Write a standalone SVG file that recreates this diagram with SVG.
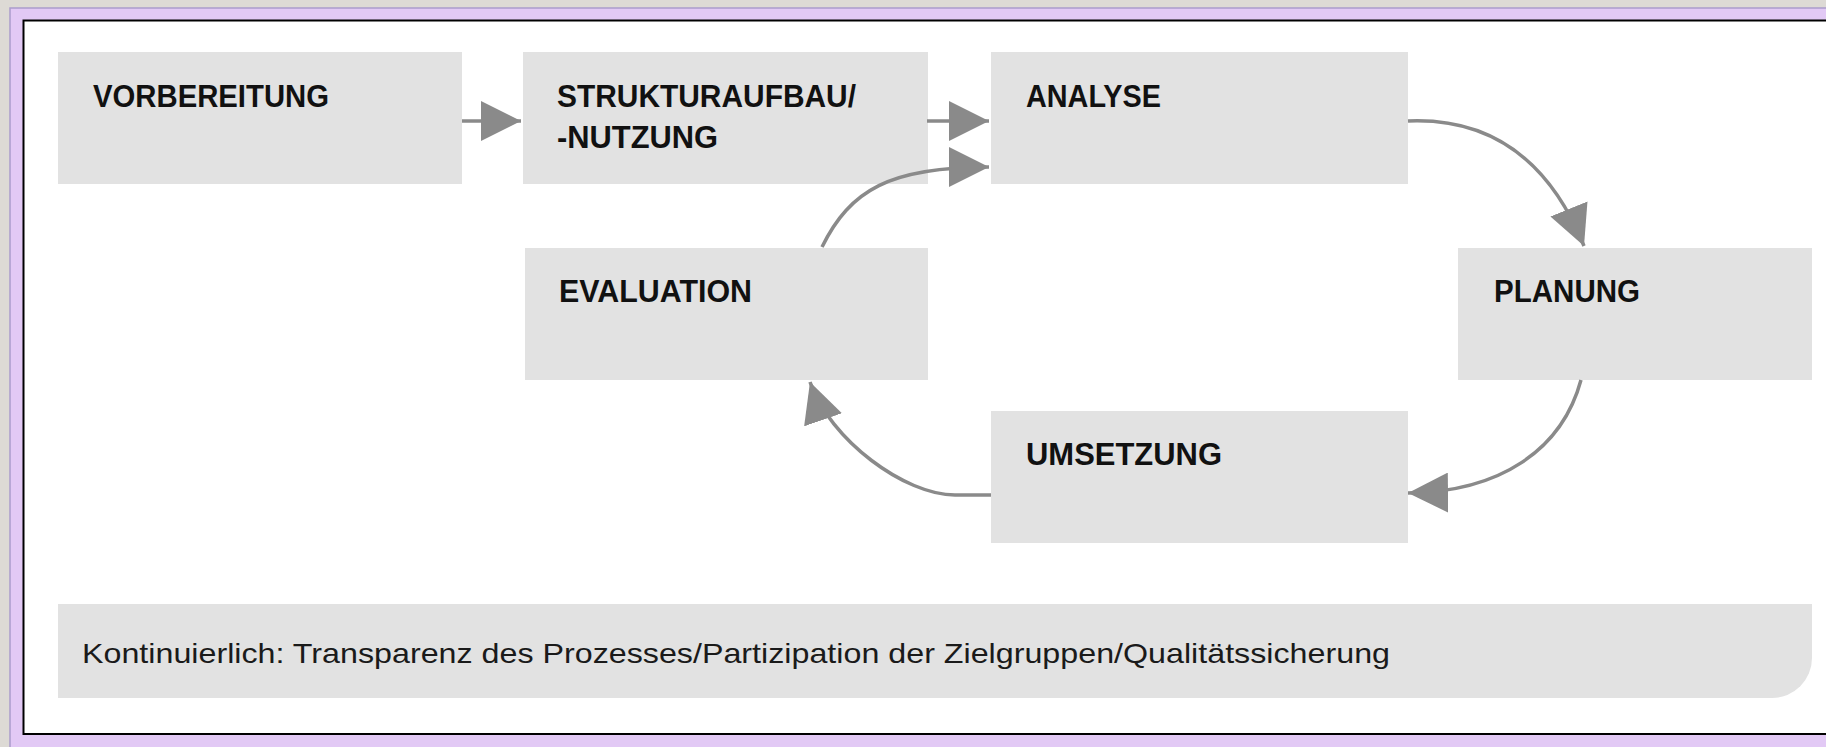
<svg xmlns="http://www.w3.org/2000/svg" width="1826" height="747" viewBox="0 0 1826 747">
<style>
.box{fill:#e2e2e2}
.lbl{font-family:"Liberation Sans",Arial,sans-serif;font-weight:bold;font-size:32px;fill:#111}
.note{font-family:"Liberation Sans",Arial,sans-serif;font-size:28px;fill:#1a1a1a}
.con{fill:none;stroke:#8a8a8a;stroke-width:3.5}
</style>
<defs>
<marker id="ah" markerUnits="userSpaceOnUse" markerWidth="40" markerHeight="40" refX="40" refY="20" orient="auto" viewBox="0 0 40 40">
<path d="M0,0 L40,20 L0,40 Z" fill="#8a8a8a"/>
</marker>
</defs>
<rect x="0" y="0" width="1826" height="747" fill="#dddad5"/>
<rect x="10" y="8" width="1830" height="760" fill="#e2c9f5" stroke="#aa9ccc" stroke-width="1.5"/>
<rect x="23.5" y="20.5" width="1820" height="713.5" fill="#ffffff" stroke="#000" stroke-width="2"/>

<g id="vorbereitung">
<rect class="box" x="58" y="52" width="404" height="132"/>
<text class="lbl" x="93" y="107" textLength="236" lengthAdjust="spacingAndGlyphs">VORBEREITUNG</text>
</g>
<g id="strukturaufbau">
<rect class="box" x="523" y="52" width="405" height="132"/>
<text class="lbl" x="557" y="107" textLength="299" lengthAdjust="spacingAndGlyphs">STRUKTURAUFBAU/</text>
<text class="lbl" x="557" y="148" textLength="161" lengthAdjust="spacingAndGlyphs">-NUTZUNG</text>
</g>
<g id="analyse">
<rect class="box" x="991" y="52" width="417" height="132"/>
<text class="lbl" x="1026" y="107" textLength="135" lengthAdjust="spacingAndGlyphs">ANALYSE</text>
</g>
<g id="planung">
<rect class="box" x="1458" y="248" width="354" height="132"/>
<text class="lbl" x="1494" y="302" textLength="146" lengthAdjust="spacingAndGlyphs">PLANUNG</text>
</g>
<g id="umsetzung">
<rect class="box" x="991" y="411" width="417" height="132"/>
<text class="lbl" x="1026" y="465" textLength="196" lengthAdjust="spacingAndGlyphs">UMSETZUNG</text>
</g>
<g id="evaluation">
<rect class="box" x="525" y="248" width="403" height="132"/>
<text class="lbl" x="559" y="302" textLength="193" lengthAdjust="spacingAndGlyphs">EVALUATION</text>
</g>
<g id="kontinuierlich">
<path class="box" d="M58,604 L1812,604 L1812,658 A40,40 0 0 1 1772,698 L58,698 Z"/>
<text class="note" x="82" y="663" textLength="1308" lengthAdjust="spacingAndGlyphs">Kontinuierlich: Transparenz des Prozesses/Partizipation der Zielgruppen/Qualitätssicherung</text>
</g>

<g id="connectors">
<path class="con" d="M462,121 L521,121" marker-end="url(#ah)"/>
<path class="con" d="M927,121 L989,121" marker-end="url(#ah)"/>
<path class="con" d="M1408,121 C1480,118 1545,150 1584,246" marker-end="url(#ah)"/>
<path class="con" d="M1581,380 C1562,450 1500,492 1408,493" marker-end="url(#ah)"/>
<path class="con" d="M991,495 L955,495 C905,495 830,440 810,382" marker-end="url(#ah)"/>
<path class="con" d="M822,247 C850,190 890,167 989,167" marker-end="url(#ah)"/>
</g>
</svg>
